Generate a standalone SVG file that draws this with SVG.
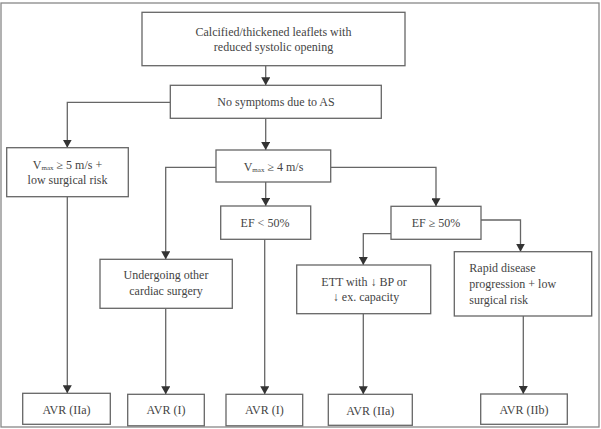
<svg xmlns="http://www.w3.org/2000/svg" width="601" height="429" viewBox="0 0 601 429">
<defs>
<marker id="ah" markerWidth="8" markerHeight="9" refX="8" refY="4.5" orient="auto" markerUnits="userSpaceOnUse">
<path d="M0,0 L8,4.5 L0,9 z" fill="#333"/>
</marker>
<style>
.box{fill:#fff;stroke:#666;stroke-width:1.3}
.t{font-family:"Liberation Serif","Times New Roman",serif;font-size:12px;fill:#444;text-anchor:middle}
.tl{text-anchor:start}
.sub{font-size:7px}
.c{fill:none;stroke:#666;stroke-width:1.3}
.a{marker-end:url(#ah)}
</style>
</defs>
<rect x="0" y="0" width="601" height="429" fill="#fff"/>
<rect x="1" y="3" width="598" height="424" fill="none" stroke="#888" stroke-width="1.3"/>

<g id="connectors">
<path class="c a" d="M265.7,66 V85.3"/>
<path class="c a" d="M170.3,102.3 H67.3 V147.7"/>
<path class="c a" d="M265.7,118.3 V150"/>
<path class="c a" d="M67.3,196.7 V393.3"/>
<path class="c a" d="M216,167.3 H165.7 V259.3"/>
<path class="c a" d="M330.7,167.3 H436 V206.3"/>
<path class="c a" d="M265.7,182 V206"/>
<path class="c a" d="M165.7,308.3 V394.3"/>
<path class="c a" d="M264.7,239.3 V394.3"/>
<path class="c a" d="M391,233.7 H363.3 V265"/>
<path class="c a" d="M481,220 H520.5 V251.7"/>
<path class="c a" d="M363.3,313.7 V394.3"/>
<path class="c a" d="M523.3,316 V394"/>
</g>

<g id="n-top">
<rect class="box" x="142" y="12.3" width="263" height="53.4"/>
<text class="t" x="273.5" y="36">Calcified/thickened leaflets with</text>
<text class="t" x="273.5" y="51">reduced systolic opening</text>
</g>
<g id="n-nosym">
<rect class="box" x="170.3" y="85.3" width="211" height="33"/>
<text class="t" x="276" y="106">No symptoms due to AS</text>
</g>
<g id="n-v5">
<rect class="box" x="6.7" y="147.7" width="121.6" height="49"/>
<text class="t" x="67.5" y="168.7">V<tspan class="sub" dy="1">max</tspan><tspan dy="-1"> ≥ 5 m/s +</tspan></text>
<text class="t" x="67.5" y="184">low surgical risk</text>
</g>
<g id="n-v4">
<rect class="box" x="216" y="150" width="114.7" height="32"/>
<text class="t" x="273.5" y="170.7">V<tspan class="sub" dy="1">max</tspan><tspan dy="-1"> ≥ 4 m/s</tspan></text>
</g>
<g id="n-eflt">
<rect class="box" x="220.7" y="206" width="90" height="33.3"/>
<text class="t" x="265" y="227">EF &lt; 50%</text>
</g>
<g id="n-efge">
<rect class="box" x="391" y="206.3" width="90" height="33"/>
<text class="t" x="436" y="227">EF ≥ 50%</text>
</g>
<g id="n-under">
<rect class="box" x="100" y="259.3" width="132.3" height="49"/>
<text class="t" x="166" y="279.3">Undergoing other</text>
<text class="t" x="166" y="295">cardiac surgery</text>
</g>
<g id="n-ett">
<rect class="box" x="296.7" y="265" width="134" height="48.7"/>
<text class="t" x="364" y="285.7">ETT with ↓ BP or</text>
<text class="t" x="366" y="301">↓ ex. capacity</text>
</g>
<g id="n-rapid">
<rect class="box" x="454.3" y="251.7" width="137.4" height="64.3"/>
<text class="t tl" x="469.3" y="271.7">Rapid disease</text>
<text class="t tl" x="469.3" y="287.7">progression + low</text>
<text class="t tl" x="469.3" y="303.7">surgical risk</text>
</g>
<g id="n-avr1">
<rect class="box" x="22.7" y="393.3" width="87.6" height="31"/>
<text class="t" x="66.5" y="413.5">AVR (IIa)</text>
</g>
<g id="n-avr2">
<rect class="box" x="127.7" y="394.3" width="76.6" height="31.5"/>
<text class="t" x="166" y="414">AVR (I)</text>
</g>
<g id="n-avr3">
<rect class="box" x="226" y="394.3" width="76.7" height="31.5"/>
<text class="t" x="264.3" y="414">AVR (I)</text>
</g>
<g id="n-avr4">
<rect class="box" x="328.3" y="394.3" width="84" height="31"/>
<text class="t" x="370.3" y="414.5">AVR (IIa)</text>
</g>
<g id="n-avr5">
<rect class="box" x="480.7" y="394" width="86.6" height="30.3"/>
<text class="t" x="524" y="413.5">AVR (IIb)</text>
</g>
</svg>
